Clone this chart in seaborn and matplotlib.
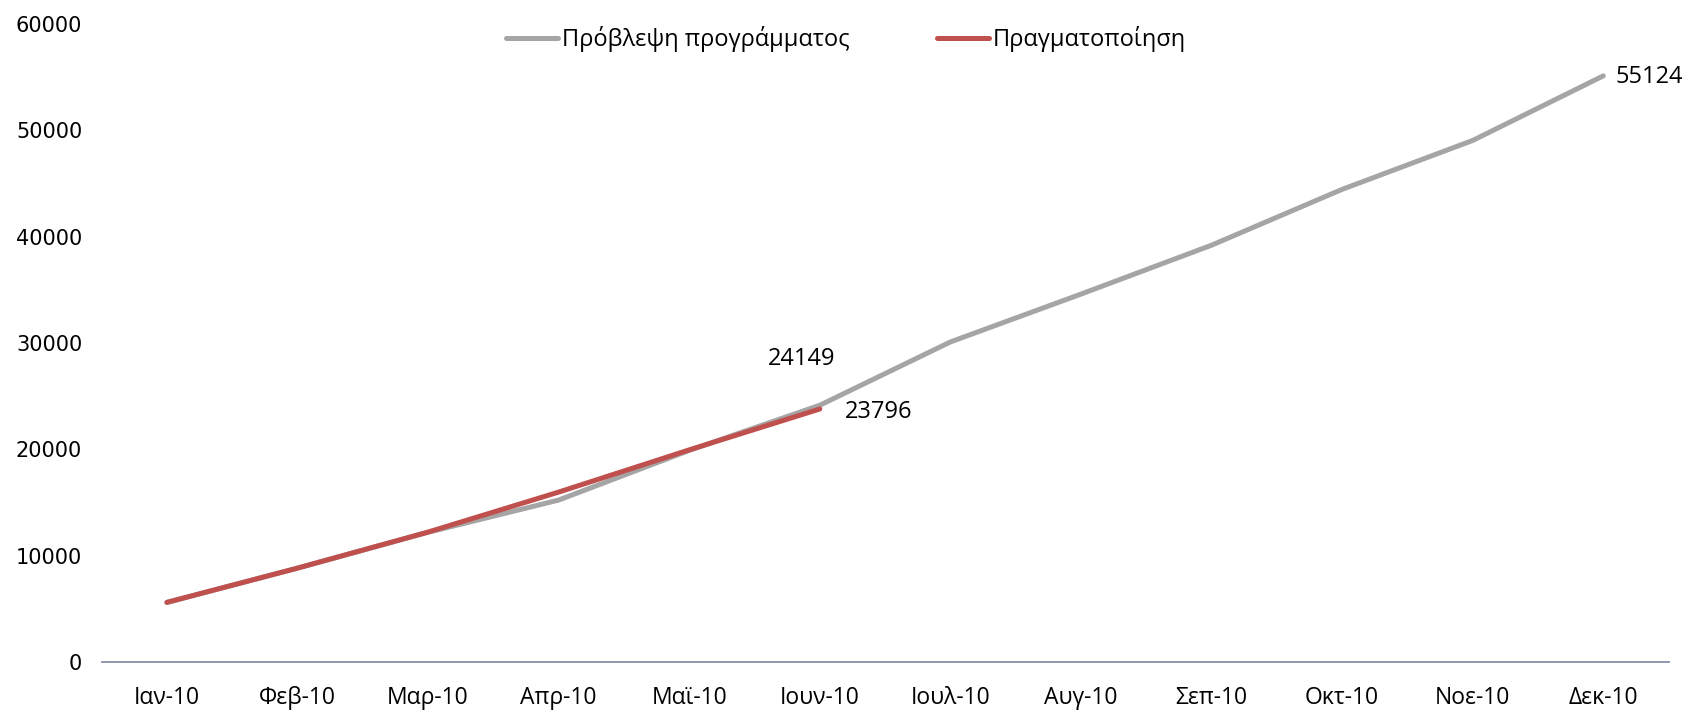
import matplotlib
matplotlib.use("Agg")
import matplotlib.pyplot as plt
import seaborn as sns
import pandas as pd

# ---------------- data ----------------
months = ["Ιαν-10", "Φεβ-10", "Μαρ-10", "Απρ-10", "Μαϊ-10", "Ιουν-10",
          "Ιουλ-10", "Αυγ-10", "Σεπ-10", "Οκτ-10", "Νοε-10", "Δεκ-10"]
forecast = [5600, 8830, 12200, 15230, 19900, 24149,
            30100, 34600, 39200, 44450, 49050, 55124]
actual = [5610, 8830, 12220, 15980, 19950, 23796]
series_names = ["Πρόβλεψη προγράμματος", "Πραγματοποίηση"]
colors = ["#A5A5A5", "#C0504D"]

# long-form table for seaborn
df = pd.concat([
    pd.DataFrame({"month": months, "value": forecast, "series": series_names[0]}),
    pd.DataFrame({"month": months[:len(actual)], "value": actual, "series": series_names[1]}),
])
df["pos"] = df["month"].map({m: i for i, m in enumerate(months)})

sns.set_theme(style="white")
plt.rcParams["font.family"] = ["Open Sans", "DejaVu Sans"]
plt.rcParams["text.color"] = "black"
plt.rcParams["xtick.color"] = "black"
plt.rcParams["ytick.color"] = "black"

fig = plt.figure(figsize=(16.94, 7.17), dpi=100)
ax = fig.add_axes([0.060, 0.0767, 0.925, 0.8898])

sns.lineplot(
    data=df,
    x="pos",
    y="value",
    hue="series",
    hue_order=series_names,
    palette=colors,
    linewidth=3.6,
    ax=ax,
    legend=True,
)
for line in ax.get_lines():
    line.set_solid_capstyle("round")
    line.set_solid_joinstyle("round")

# data labels
lbl = 17
ax.annotate(f"{forecast[5]}", (5, forecast[5]), xytext=(-13, 33), textcoords="offset points",
            ha="center", va="center", fontsize=lbl)
ax.annotate(f"{actual[5]}", (5, actual[5]), xytext=(18, -2), textcoords="offset points",
            ha="left", va="center", fontsize=lbl)
ax.annotate(f"{forecast[-1]}", (11, forecast[-1]), xytext=(9, -1), textcoords="offset points",
            ha="left", va="center", fontsize=lbl)

# axes
ax.set_xlim(-0.5, len(months) - 0.5)
ax.set_ylim(0, 60000)
ax.set_xticks(range(len(months)))
ax.set_xticklabels(months, fontsize=16.5)
ax.set_yticks(range(0, 60001, 10000))
ax.set_yticklabels([str(v) for v in range(0, 60001, 10000)], fontsize=15,
                   family=["DejaVu Sans"])
ax.tick_params(axis="y", length=0, pad=14)
ax.tick_params(axis="x", length=0, pad=17)
ax.set_xlabel("")
ax.set_ylabel("")
for side in ["top", "right", "left"]:
    ax.spines[side].set_visible(False)
ax.spines["bottom"].set_color("#868EA8")
ax.spines["bottom"].set_linewidth(1.3)

# legend
leg = ax.legend(
    loc="center",
    bbox_to_anchor=(0.475, 0.976),
    ncol=2,
    frameon=False,
    fontsize=17,
    handlelength=2.2,
    handletextpad=0.15,
    columnspacing=3.7,
)
for h in leg.get_lines():
    h.set_linewidth(3.6)
    h.set_solid_capstyle("round")

plt.savefig("out.png", dpi=100)
plt.close()
